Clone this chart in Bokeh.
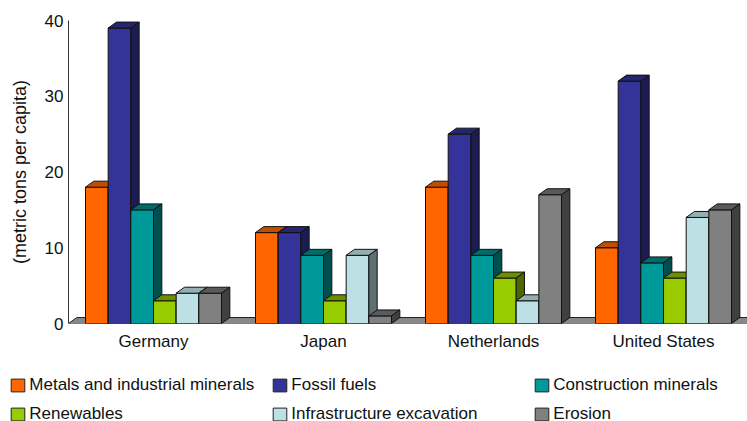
from bokeh.plotting import figure
from bokeh.layouts import column
from bokeh.models import Range1d, FixedTicker, Legend, LegendItem, ColumnDataSource
from bokeh.embed import file_html
from bokeh.resources import INLINE

countries = ["Germany", "Japan", "Netherlands", "United States"]
series_names = ["Metals and industrial minerals", "Fossil fuels", "Construction minerals",
                "Renewables", "Infrastructure excavation", "Erosion"]
metals = [18, 12, 18, 10]
fossil = [39, 12, 25, 32]
construction = [15, 9, 9, 8]
renewables = [3, 3, 6, 6]
infrastructure = [4, 9, 3, 14]
erosion = [4, 1, 17, 15]
y_ticks = [0, 10, 20, 30, 40]

series_values = [metals, fossil, construction, renewables, infrastructure, erosion]
front_colors = ["#FF6600", "#333399", "#009999", "#99CC00", "#BCE0E3", "#808080"]
top_colors = ["#C24E00", "#26266F", "#006B6B", "#6B8F00", "#93AFB1", "#5A5A5A"]
side_colors = ["#8A3700", "#1C1C52", "#004F4F", "#4D6600", "#5E7072", "#404040"]

FONT = "Liberation Sans"
X_END = 3.994
DX = 0.049   # depth offset in x units
DY = 0.79    # depth offset in y units
GROUP_PAD = 0.1
BAR_W = (1 - 2 * GROUP_PAD) / len(series_names)

p = figure(width=747, height=353, output_backend="svg", toolbar_location=None,
           x_range=Range1d(0, X_END), y_range=Range1d(0, 40),
           min_border_left=68, min_border_right=0, min_border_top=20, min_border_bottom=30)
p.frame_align = False
p.outline_line_color = None
p.xgrid.visible = False
p.ygrid.visible = False

# floor
p.patch([0, X_END, X_END + DX, DX], [0, 0, DY, DY], fill_color="#888888",
        line_color="#222222", line_width=1)

for i, (name, vals) in enumerate(zip(series_names, series_values)):
    left = [c + GROUP_PAD + i * BAR_W for c in range(len(countries))]
    right = [l + BAR_W for l in left]
    src = ColumnDataSource(dict(left=left, right=right, top=vals, bottom=[0] * len(vals)))
    p.quad(left="left", right="right", top="top", bottom="bottom", source=src,
           fill_color=front_colors[i], line_color="#111111", line_width=1)
    top_xs = [[l, rr, rr + DX, l + DX] for l, rr in zip(left, right)]
    top_ys = [[v, v, v + DY, v + DY] for v in vals]
    p.patches(top_xs, top_ys, fill_color=top_colors[i], line_color="#111111", line_width=1)
    side_xs = [[rr, rr + DX, rr + DX, rr] for rr in right]
    side_ys = [[0, DY, v + DY, v] for v in vals]
    p.patches(side_xs, side_ys, fill_color=side_colors[i], line_color="#111111", line_width=1)

# y axis
ya = p.yaxis[0]
ya.ticker = FixedTicker(ticks=y_ticks)
ya.bounds = (0, 40)
ya.major_tick_in = 0
ya.major_tick_out = 0
ya.minor_tick_in = 0
ya.minor_tick_out = 0
ya.axis_line_color = "#333333"
ya.major_label_text_font = FONT
ya.major_label_text_font_size = "17px"
ya.major_label_text_color = "#111111"
ya.major_label_standoff = 5
ya.axis_label = "(metric tons per capita)"
ya.axis_label_text_font = FONT
ya.axis_label_text_font_size = "18px"
ya.axis_label_text_font_style = "normal"
ya.axis_label_text_color = "#111111"
ya.axis_label_standoff = 12

# x axis
xa = p.xaxis[0]
tick_pos = [k + 0.5 for k in range(len(countries))]
xa.ticker = FixedTicker(ticks=tick_pos)
xa.major_label_overrides = {t: c for t, c in zip(tick_pos, countries)}
xa.axis_line_color = None
xa.major_tick_in = 0
xa.major_tick_out = 0
xa.minor_tick_in = 0
xa.minor_tick_out = 0
xa.major_label_text_font = FONT
xa.major_label_text_font_size = "17px"
xa.major_label_text_color = "#111111"
xa.major_label_standoff = 8

# legend strip (swatch renderers sit outside the visible range)
pl = figure(width=747, height=68, output_backend="svg", toolbar_location=None,
            x_range=Range1d(0, 747), y_range=Range1d(0, 68), min_border=0,
            min_border_left=0, min_border_right=0, min_border_top=0, min_border_bottom=0)
pl.frame_align = False
pl.outline_line_color = None
pl.axis.visible = False
pl.xgrid.visible = False
pl.ygrid.visible = False
items = []
for i, name in enumerate(series_names):
    r = pl.quad(left=[-20], right=[-10], top=[-10], bottom=[-20], fill_color=front_colors[i],
                line_color="#222222", line_width=1)
    items.append(LegendItem(label=name, renderers=[r]))

legend = Legend(items=items, location=(9.3, -2.5), orientation="horizontal", ncols=3,
                glyph_width=17, glyph_height=16, label_standoff=3, label_width=233,
                label_height=19, spacing=9, padding=0, margin=0,
                border_line_color=None, background_fill_alpha=0,
                label_text_font=FONT, label_text_font_size="17px",
                label_text_color="#111111")
pl.add_layout(legend)

layout = column(p, pl, spacing=0)
open("out.html", "w").write(file_html(layout, INLINE))
